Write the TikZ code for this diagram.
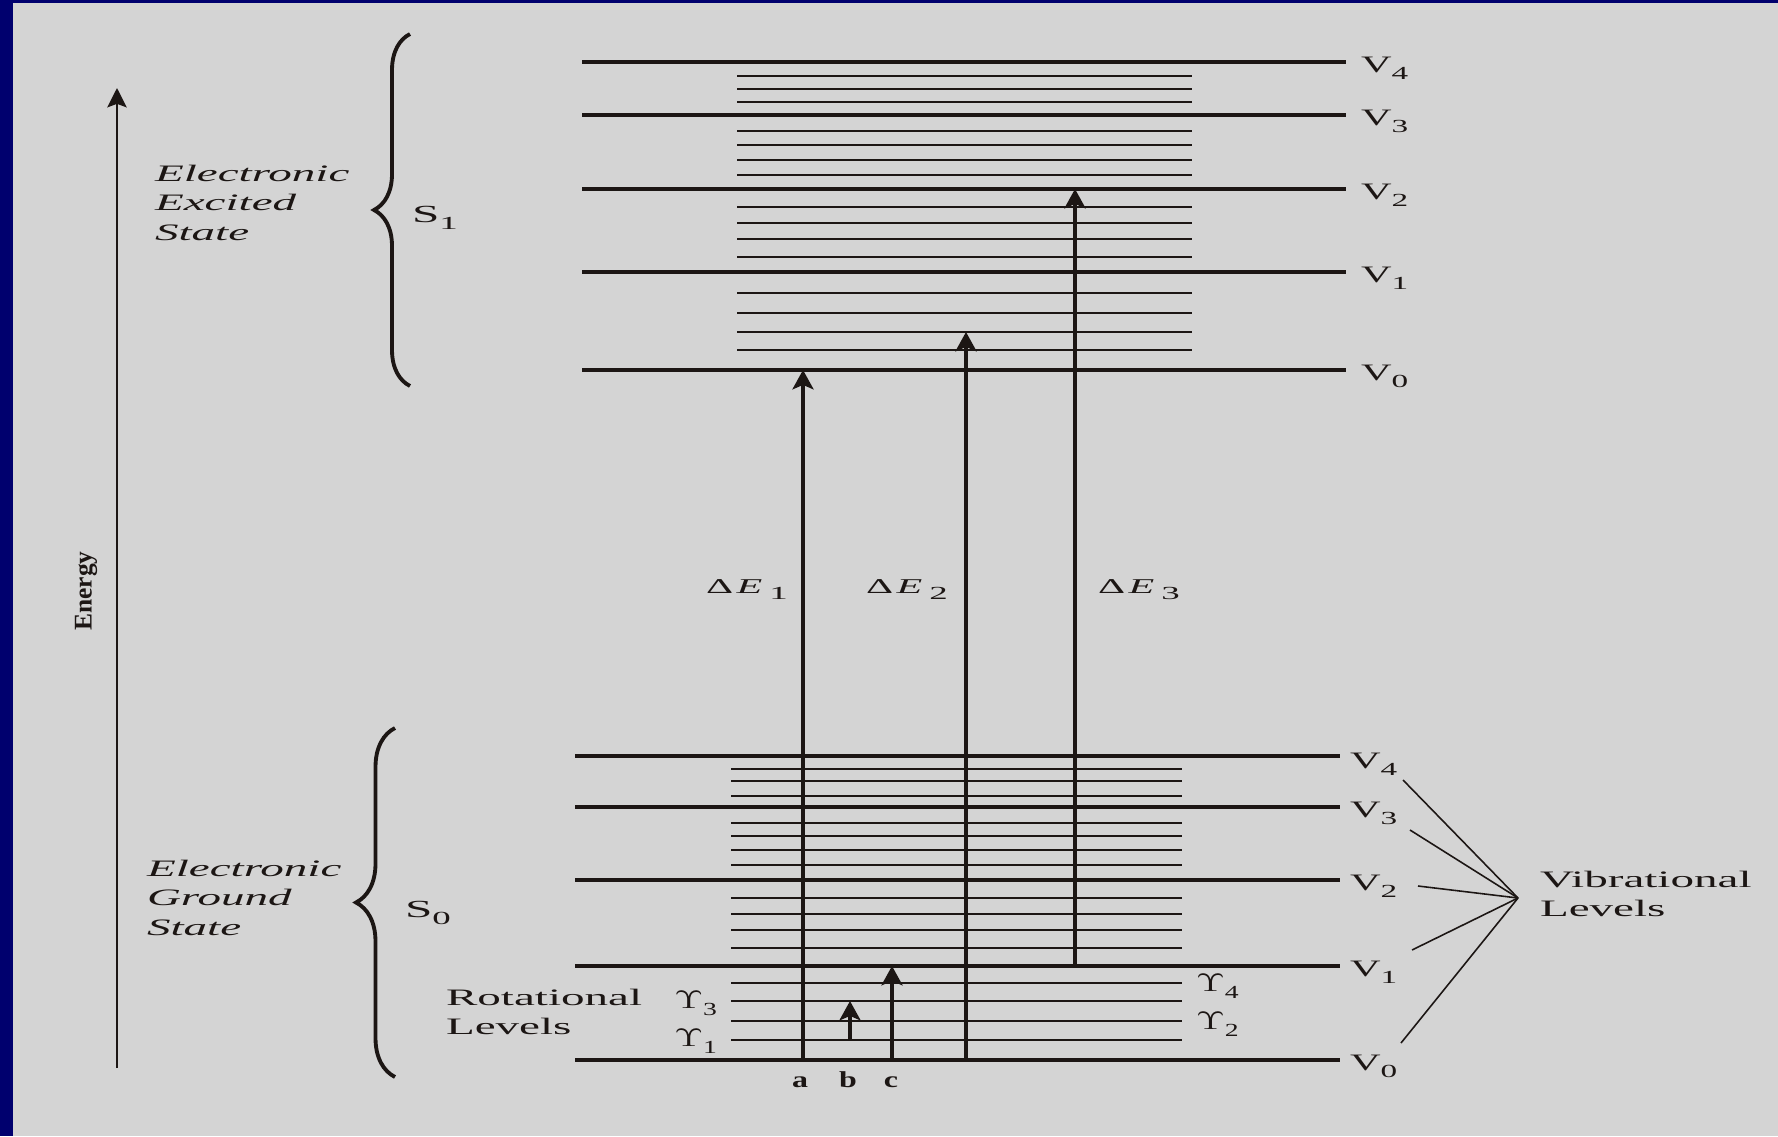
\documentclass[tikz,border=0pt]{standalone}
\usepackage{fontspec}
\setmainfont{Liberation Serif}
\usetikzlibrary{arrows.meta,decorations.pathreplacing}
\definecolor{slideblue}{RGB}{0,0,110}
\definecolor{panel}{RGB}{212,212,212}
\definecolor{ink}{RGB}{28,22,20}
\newcommand\figw[2][2]{\scalebox{#1}[1]{#2}}
\newcommand\sublab[1]{\raisebox{-0.32em}{\fontsize{10.5pt}{12pt}\selectfont #1}}
\begin{document}
\begin{tikzpicture}[x=0.02cm,y=-0.02cm,
 major/.style={draw=ink,line width=1.8pt},
 minor/.style={draw=ink,line width=1.3pt},
 trans/.style={draw=ink,line width=1.9pt,-{Stealth[length=11pt,width=12pt,inset=2.5pt]}},
 axisarrow/.style={draw=ink,line width=1.5pt,-{Stealth[length=11pt,width=11pt,inset=2pt]}},
 leader/.style={draw=ink,line width=0.9pt},
 statebrace/.style={draw=ink,line width=2.2pt,decorate,decoration={brace,amplitude=#1}},
 txt/.style={inner sep=0pt,outer sep=0pt,text=ink,font=\fontsize{13.4pt}{16.8pt}\selectfont},
]
% background
\fill[slideblue] (0,0) rectangle (1778,1136);
\fill[panel] (13,3) rectangle (1778,1136);
\useasboundingbox (0,0) rectangle (1778,1136);

% ---------- S1 levels ----------
\foreach \y in {76,89,102,131,145,160,175,207,223,239,257,293,313,332,350}
  \draw[minor] (737,\y) -- (1192,\y);
\foreach \y in {62,115,189,272,370}
  \draw[major] (582,\y) -- (1346,\y);

% ---------- S0 levels ----------
\foreach \y in {769,781,796,823,836,850,865,898,914,930,948,983,1001,1021,1040}
  \draw[minor] (731,\y) -- (1182,\y);
\foreach \y in {756,807,880,966,1060}
  \draw[major] (575,\y) -- (1340,\y);

% ---------- V labels ----------
\node[txt,anchor=base west] (v4t) at (1361,72) {\figw[1.8]{V\sublab{4}}};
\node[txt,anchor=base west] (v3t) at (1361,125) {\figw[1.8]{V\sublab{3}}};
\node[txt,anchor=base west] (v2t) at (1361,199) {\figw[1.8]{V\sublab{2}}};
\node[txt,anchor=base west] (v1t) at (1361,282) {\figw[1.8]{V\sublab{1}}};
\node[txt,anchor=base west] (v0t) at (1361,380) {\figw[1.8]{V\sublab{0}}};

\node[txt,anchor=base west] (v4b) at (1350,768) {\figw[1.8]{V\sublab{4}}};
\node[txt,anchor=base west] (v3b) at (1350,817) {\figw[1.8]{V\sublab{3}}};
\node[txt,anchor=base west] (v2b) at (1350,890) {\figw[1.8]{V\sublab{2}}};
\node[txt,anchor=base west] (v1b) at (1350,976) {\figw[1.8]{V\sublab{1}}};
\node[txt,anchor=base west] (v0b) at (1350,1070) {\figw[1.8]{V\sublab{0}}};

% ---------- Energy axis ----------
\coordinate (ebot) at (117,1068);
\coordinate (etop) at (117,88);
\draw[axisarrow] (ebot) -- (etop);
\node[txt,rotate=90,font=\fontsize{14.5pt}{16pt}\selectfont\bfseries] (energy) at (86,591) {Energy};

% ---------- braces and state labels ----------
\draw[statebrace=0.72cm] (410,386) -- (410,34);
\draw[statebrace=0.78cm] (395,1077) -- (395,728);

\node[txt,anchor=west] (exc) at (155,205)
  {\figw{\itshape\begin{tabular}{@{}l@{}}Electronic\\Excited\\State\end{tabular}}};
\node[txt,anchor=west] (gnd) at (147,900)
  {\figw{\itshape\begin{tabular}{@{}l@{}}Electronic\\Ground\\State\end{tabular}}};
\node[txt,anchor=base west,font=\fontsize{14pt}{16pt}\selectfont] (s1) at (412,222) {\figw{S\sublab{1}}};
\node[txt,anchor=base west,font=\fontsize{14pt}{16pt}\selectfont] (s0) at (405,917) {\figw{S\sublab{0}}};

% ---------- transitions ----------
\coordinate (a0) at (803,1060);  \coordinate (a1) at (803,370);
\coordinate (d0) at (966,1060);  \coordinate (d1) at (966,332);
\coordinate (e0) at (1075,966);  \coordinate (e1) at (1075,189);
\coordinate (b0) at (850,1040);  \coordinate (b1) at (850,1001);
\coordinate (c0) at (892,1060);  \coordinate (c1) at (892,966);
\draw[trans] (a0) -- (a1);
\draw[trans] (d0) -- (d1);
\draw[trans] (e0) -- (e1);
\draw[trans] (b0) -- (b1);
\draw[trans] (c0) -- (c1);

\node[txt,anchor=base,font=\fontsize{12pt}{14pt}\selectfont] (de1) at (747,593) {\figw{Δ\kern1pt\textit{E}\kern2pt\sublab{1}}};
\node[txt,anchor=base,font=\fontsize{12pt}{14pt}\selectfont] (de2) at (907,593) {\figw{Δ\kern1pt\textit{E}\kern2pt\sublab{2}}};
\node[txt,anchor=base,font=\fontsize{12pt}{14pt}\selectfont] (de3) at (1139,593) {\figw{Δ\kern1pt\textit{E}\kern2pt\sublab{3}}};

% ---------- rotational labels ----------
\node[txt,anchor=base east] (g3) at (717,1008) {\figw[1.5]{$\Upsilon$\sublab{3}}};
\node[txt,anchor=base east] (g1) at (717,1046) {\figw[1.5]{$\Upsilon$\sublab{1}}};
\node[txt,anchor=base west] (g4) at (1196,991) {\figw[1.5]{$\Upsilon$\sublab{4}}};
\node[txt,anchor=base west] (g2) at (1196,1029) {\figw[1.5]{$\Upsilon$\sublab{2}}};
\node[txt,anchor=west] (rot) at (446,1014)
  {\figw{\begin{tabular}{@{}l@{}}Rotational\\Levels\end{tabular}}};

\node[txt,anchor=base,font=\fontsize{13pt}{14pt}\selectfont\bfseries] (la) at (800,1087) {\figw[1.4]{a}};
\node[txt,anchor=base,font=\fontsize{13pt}{14pt}\selectfont\bfseries] (lb) at (848,1087) {\figw[1.4]{b}};
\node[txt,anchor=base,font=\fontsize{13pt}{14pt}\selectfont\bfseries] (lc) at (891,1087) {\figw[1.4]{c}};

% ---------- vibrational labels ----------
\node[txt,anchor=west] (vib) at (1540,896)
  {\figw{\begin{tabular}{@{}l@{}}Vibrational\\Levels\end{tabular}}};
\coordinate (hub) at (1518,898);
\coordinate (l4) at (1403,780);
\coordinate (l3) at (1410,830);
\coordinate (l2) at (1418,886);
\coordinate (l1) at (1412,950);
\coordinate (l0) at (1401,1043);
\foreach \p in {l4,l3,l2,l1,l0} \draw[leader] (\p) -- (hub);
\end{tikzpicture}
\end{document}
